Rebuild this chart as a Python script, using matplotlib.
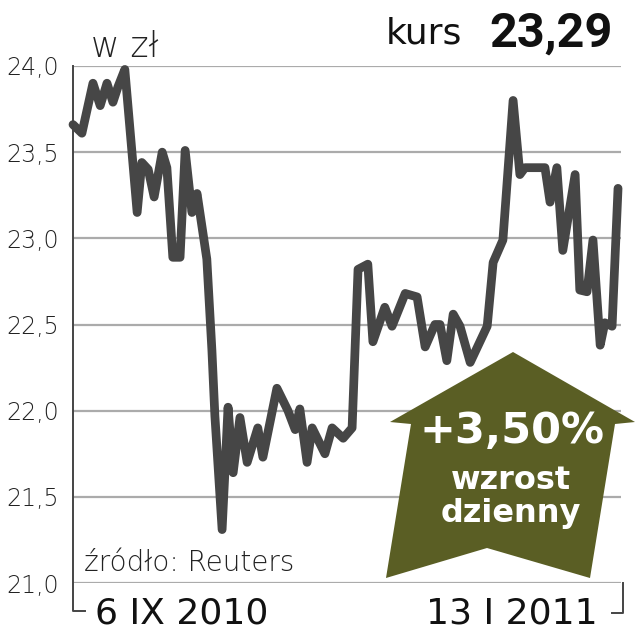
import matplotlib
matplotlib.use("Agg")
import matplotlib.pyplot as plt
from matplotlib.patches import Polygon
from matplotlib.lines import Line2D

# ---- data (day offset from 6 IX 2010, price in zł) ----
days = [0, 2.1, 4.7, 6.4, 8.0, 9.4, 10.6, 12.2, 15.1, 16.2, 17.7, 19.1, 21.0, 22.1,
        23.5, 25.2, 26.4, 28.0, 29.2, 31.5, 32.7, 33.4, 35.1, 36.5, 37.7, 39.3, 41.0,
        43.5, 44.7, 48.0, 50.6, 52.3, 53.4, 55.1, 56.3, 59.3, 61.0, 63.6, 65.7, 67.1,
        69.4, 70.6, 73.4, 75.1, 78.2, 81.0, 82.9, 85.2, 86.4, 88.0, 89.5, 91.1, 93.5,
        97.5, 98.9, 101.2, 103.6, 105.2, 106.4, 111.1, 112.3, 113.9, 115.3, 118.2,
        119.3, 121.0, 122.4, 124.1, 125.2, 126.9, 128.3]
prices = [23.66, 23.61, 23.90, 23.77, 23.90, 23.79, 23.88, 23.98, 23.15, 23.44, 23.40,
          23.24, 23.50, 23.41, 22.89, 22.89, 23.51, 23.15, 23.26, 22.88, 22.35, 21.97,
          21.31, 22.02, 21.64, 21.96, 21.70, 21.90, 21.73, 22.13, 22.00, 21.89, 22.01,
          21.70, 21.90, 21.75, 21.90, 21.84, 21.90, 22.82, 22.85, 22.40, 22.60, 22.49,
          22.68, 22.66, 22.37, 22.50, 22.50, 22.29, 22.56, 22.49, 22.28, 22.49, 22.86,
          22.99, 23.80, 23.37, 23.41, 23.41, 23.21, 23.41, 22.93, 23.37, 22.70, 22.69,
          22.99, 22.38, 22.51, 22.49, 23.29]
yticks = [21.0, 21.5, 22.0, 22.5, 23.0, 23.5, 24.0]
ytick_labels = ["21,0", "21,5", "22,0", "22,5", "23,0", "23,5", "24,0"]
start_label = "6 IX 2010"
end_label = "13 I 2011"
unit_label = "w zł"
kurs_label = "kurs"
kurs_value = "23,29"
source_label = "źródło: Reuters"
change_label = "+3,50%"
change_text = "wzrost\ndzienny"

W, H = 636, 640
fig = plt.figure(figsize=(W / 100, H / 100), dpi=100)
fig.patch.set_facecolor("white")

def fx(x):
    return x / W

def fy(y):
    return 1 - y / H

ax = fig.add_axes([fx(73), fy(583), fx(621) - fx(73), fy(66) - fy(583)])
ax.set_xlim(0, 129)
ax.set_ylim(21.0, 24.0)
for s in ax.spines.values():
    s.set_visible(False)
ax.set_xticks([])
ax.set_yticks(yticks)
ax.set_yticklabels(ytick_labels, fontsize=17, color="#222222", family="DejaVu Sans",
                   fontweight="light")
ax.tick_params(axis="y", length=0, pad=10)
ax.grid(axis="y", color="#ababab", linewidth=1.6)
ax.set_axisbelow(True)

ax.plot(days, prices, color="#464646", linewidth=6.3, solid_joinstyle="round",
        solid_capstyle="round", clip_on=False, zorder=3)

# bracket lines
bc = "#444444"
fig.add_artist(Line2D([fx(72.5), fx(72.5), fx(85)], [fy(66), fy(611), fy(611)],
                      transform=fig.transFigure, color=bc, linewidth=1.4))
fig.add_artist(Line2D([fx(612), fx(623), fx(623)], [fy(613), fy(613), fy(583)],
                      transform=fig.transFigure, color=bc, linewidth=1.4))

# arrow
arrow_px = [(513, 352), (635, 422), (615, 424), (590, 578), (487, 548),
            (386, 578), (411, 424), (390, 422)]
arrow = Polygon([(fx(x), fy(y)) for x, y in arrow_px], closed=True,
                transform=fig.transFigure, facecolor="#5a5e24", edgecolor="none", zorder=5)
fig.add_artist(arrow)

fig.text(fx(512), fy(431), change_label, ha="center", va="center", color="white",
         fontsize=31, fontweight="bold", family="DejaVu Sans", zorder=6)
fig.text(fx(511), fy(497), change_text, ha="center", va="center", color="white",
         fontsize=23, fontweight="bold", family="DejaVu Sans", linespacing=1.05, zorder=6)

# texts
fig.text(fx(91), fy(47), unit_label, ha="left", va="center", fontsize=25,
         color="#222222", family="DejaVu Sans", fontweight="light")
fig.text(fx(386), fy(34), kurs_label, ha="left", va="center", fontsize=26,
         color="#111111", family="DejaVu Sans")
fig.text(fx(613), fy(34), kurs_value, ha="right", va="center", fontsize=35,
         color="#111111", family="Roboto", fontweight="bold")
fig.text(fx(84), fy(563), source_label, ha="left", va="center", fontsize=20,
         color="#222222", family="DejaVu Sans", fontweight="light")
fig.text(fx(95), fy(613), start_label, ha="left", va="center", fontsize=26,
         color="#111111", family="DejaVu Sans")
fig.text(fx(598), fy(613), end_label, ha="right", va="center", fontsize=26,
         color="#111111", family="DejaVu Sans")

fig.savefig("out.png", dpi=100, facecolor="white")
